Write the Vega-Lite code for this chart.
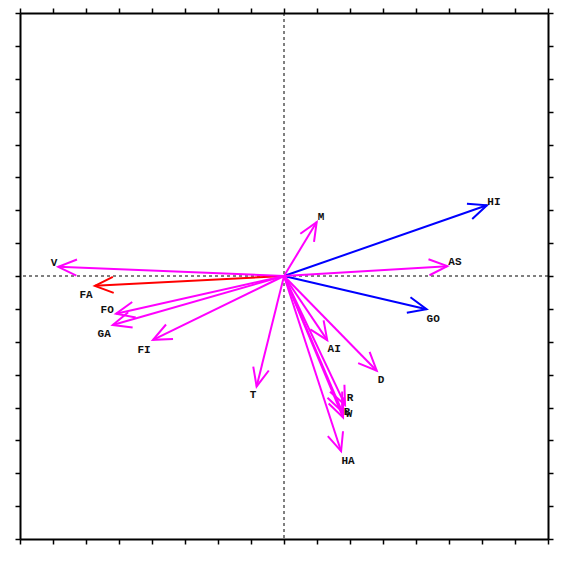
{
  "$schema": "https://vega.github.io/schema/vega-lite/v6.json",
  "width": 528,
  "height": 526,
  "autosize": {"type": "none"},
  "padding": {"left": 20, "top": 13, "right": 21, "bottom": 23},
  "background": "white",
  "config": {
    "view": {"stroke": null},
    "axis": {
      "labels": false,
      "grid": false,
      "title": null,
      "ticks": true,
      "tickSize": 5,
      "tickWidth": 1.5,
      "tickColor": "black",
      "domainColor": "black",
      "domainWidth": 2,
      "values": [-8, -7, -6, -5, -4, -3, -2, -1, 0, 1, 2, 3, 4, 5, 6, 7, 8]
    }
  },
  "datasets": {
    "arrows": [
      {"name": "HI", "x": 6.15, "y": 2.15, "lx": 6.36, "ly": 2.24, "grp": "blue"},
      {"name": "GO", "x": 4.32, "y": -1.01, "lx": 4.52, "ly": -1.3, "grp": "blue"},
      {"name": "FA", "x": -5.73, "y": -0.3, "lx": -6.0, "ly": -0.58, "grp": "red"},
      {"name": "AS", "x": 4.95, "y": 0.3, "lx": 5.18, "ly": 0.42, "grp": "magenta"},
      {"name": "V", "x": -6.84, "y": 0.28, "lx": -6.97, "ly": 0.39, "grp": "magenta"},
      {"name": "FO", "x": -5.09, "y": -1.15, "lx": -5.36, "ly": -1.03, "grp": "magenta"},
      {"name": "GA", "x": -5.19, "y": -1.49, "lx": -5.45, "ly": -1.76, "grp": "magenta"},
      {"name": "FI", "x": -3.97, "y": -1.94, "lx": -4.24, "ly": -2.24, "grp": "magenta"},
      {"name": "M", "x": 0.99, "y": 1.64, "lx": 1.12, "ly": 1.79, "grp": "magenta"},
      {"name": "T", "x": -0.83, "y": -3.36, "lx": -0.94, "ly": -3.61, "grp": "magenta"},
      {"name": "AI", "x": 1.31, "y": -1.95, "lx": 1.52, "ly": -2.21, "grp": "magenta"},
      {"name": "D", "x": 2.81, "y": -2.88, "lx": 2.94, "ly": -3.15, "grp": "magenta"},
      {"name": "R", "x": 1.85, "y": -3.92, "lx": 2.0, "ly": -3.7, "grp": "magenta"},
      {"name": "B", "x": 1.76, "y": -4.12, "lx": 1.91, "ly": -4.15, "grp": "magenta"},
      {"name": "W", "x": 1.79, "y": -4.3, "lx": 1.97, "ly": -4.21, "grp": "magenta"},
      {"name": "HA", "x": 1.73, "y": -5.33, "lx": 1.94, "ly": -5.64, "grp": "magenta"}
    ],
    "cross": [{"v": 0}]
  },
  "resolve": {"axis": {"x": "independent", "y": "independent"}},
  "layer": [
    {
      "data": {"name": "cross"},
      "mark": {"type": "rule", "color": "black", "strokeWidth": 1, "strokeDash": [3, 3]},
      "encoding": {
        "x": {"field": "v", "type": "quantitative", "scale": {"domain": [-8, 8], "nice": false, "zero": false}, "axis": {"orient": "top"}}
      }
    },
    {
      "data": {"name": "cross"},
      "mark": {"type": "rule", "color": "black", "strokeWidth": 1, "strokeDash": [3, 3]},
      "encoding": {
        "y": {"field": "v", "type": "quantitative", "scale": {"domain": [-8, 8], "nice": false, "zero": false}, "axis": {"orient": "right"}}
      }
    },
    {
      "data": {"name": "arrows"},
      "mark": {"type": "rule", "strokeWidth": 2},
      "encoding": {
        "x": {"field": "x", "type": "quantitative", "scale": {"domain": [-8, 8], "nice": false, "zero": false}, "axis": {"orient": "bottom"}},
        "y": {"field": "y", "type": "quantitative", "scale": {"domain": [-8, 8], "nice": false, "zero": false}, "axis": {"orient": "left"}},
        "x2": {"datum": 0},
        "y2": {"datum": 0},
        "color": {"field": "grp", "type": "nominal", "scale": {"domain": ["blue", "red", "magenta"], "range": ["#0000FF", "#FF0000", "#FF00FF"]}, "legend": null}
      }
    },
    {
      "data": {"name": "arrows"},
      "transform": [{"calculate": "atan2(datum.x, datum.y) * 180 / PI", "as": "ang"}],
      "mark": {"type": "point", "filled": false, "strokeWidth": 2, "opacity": 1, "size": 1600, "shape": "M -0.4 0.92 L 0 0 L 0.4 0.92"},
      "encoding": {
        "x": {"field": "x", "type": "quantitative", "axis": null},
        "y": {"field": "y", "type": "quantitative", "axis": null},
        "angle": {"field": "ang", "type": "quantitative", "scale": null},
        "color": {"field": "grp", "type": "nominal", "scale": {"domain": ["blue", "red", "magenta"], "range": ["#0000FF", "#FF0000", "#FF00FF"]}, "legend": null}
      }
    },
    {
      "data": {"name": "arrows"},
      "mark": {"type": "text", "font": "Liberation Mono", "fontWeight": "bold", "fontSize": 11, "align": "center", "baseline": "middle", "color": "#111111"},
      "encoding": {
        "x": {"field": "lx", "type": "quantitative", "axis": null},
        "y": {"field": "ly", "type": "quantitative", "axis": null},
        "text": {"field": "name"}
      }
    }
  ]
}
